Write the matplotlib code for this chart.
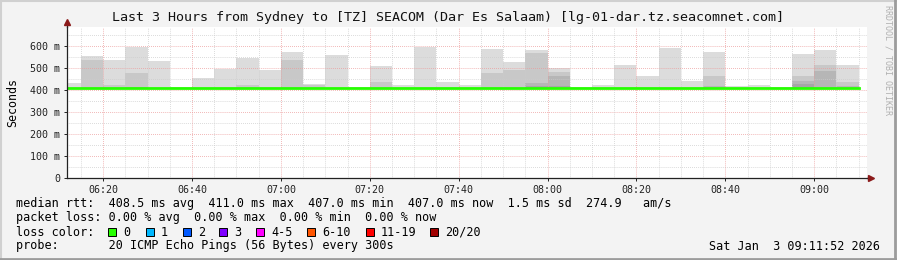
import numpy as np
import matplotlib
matplotlib.use("Agg")
import matplotlib.pyplot as plt
from matplotlib.patches import Rectangle
from matplotlib.lines import Line2D

# 5-minute steps (start of each step)
step_start = ["06:10", "06:15", "06:20", "06:25", "06:30", "06:35",
              "06:40", "06:45", "06:50", "06:55", "07:00", "07:05",
              "07:10", "07:15", "07:20", "07:25", "07:30", "07:35",
              "07:40", "07:45", "07:50", "07:55", "08:00", "08:05",
              "08:10", "08:15", "08:20", "08:25", "08:30", "08:35",
              "08:40", "08:45", "08:50", "08:55", "09:00", "09:05"]

# smoke (ms): max ping and darker inner bands (0 = no band)
smoke_max = [433, 554, 536, 594, 532, 414, 456, 497, 547, 491, 573, 429,
             559, 412, 509, 423, 597, 438, 423, 586, 527, 582, 500, 412,
             423, 514, 464, 592, 442, 573, 418, 423, 412, 564, 582, 514]
smoke_mid = [0, 536, 423, 479, 0, 0, 0, 0, 423, 0, 536, 421,
             0, 0, 438, 0, 0, 0, 0, 479, 491, 567, 483, 0,
             0, 0, 0, 0, 0, 464, 0, 0, 0, 464, 514, 436]
smoke_dark = [0, 0, 0, 415, 0, 0, 0, 0, 0, 0, 0, 0,
              0, 0, 0, 0, 0, 0, 0, 0, 0, 430, 464, 0,
              0, 0, 0, 0, 0, 418, 0, 0, 0, 442, 488, 418]
smoke_darkest = [0, 0, 0, 0, 0, 0, 0, 0, 0, 0, 0, 0,
                 0, 0, 0, 0, 0, 0, 0, 0, 0, 420, 418, 0,
                 0, 0, 0, 0, 0, 0, 0, 0, 0, 427, 0, 0]
median_rtt = [409, 409, 409, 409, 409, 409, 411, 411, 411, 407, 407, 411,
              411, 411, 411, 407, 411, 411, 411, 411, 411, 411, 411, 411,
              411, 411, 407, 407, 407, 407, 411, 411, 411, 408, 408, 408]

time_ticks = ["06:20", "06:40", "07:00", "07:20", "07:40", "08:00",
              "08:20", "08:40", "09:00"]

loss_labels = ["0", "1", "2", "3", "4-5", "6-10", "11-19", "20/20"]
loss_colors = ["#26ff00", "#00b8ff", "#0059ff", "#7e00ff", "#ff00ff",
               "#ff5500", "#ff0000", "#a10000"]


def to_min(s):
    h, m = s.split(":")
    return int(h) * 60 + int(m)


W, H = 897, 260
mono = "DejaVu Sans Mono"
plt.rcParams['font.family'] = mono

fig = plt.figure(figsize=(W / 100, H / 100), dpi=100, facecolor="#f3f3f3")


def px(x, y):
    return x / W, 1 - y / H


ax = fig.add_axes([67 / W, 82 / H, 800 / W, 151 / H])
ax.set_facecolor("white")

x = np.array([to_min(s) for s in step_start], dtype=float)
base = 404
for vals, col in [(smoke_max, "#dcdcdc"), (smoke_mid, "#c8c8c8"),
                  (smoke_dark, "#b6b6b6"), (smoke_darkest, "#a6a6a6")]:
    v = np.array(vals, dtype=float)
    ax.bar(x, np.maximum(v - base, 0), bottom=base, width=5, align="edge",
           color=col, linewidth=0, zorder=1)

# grid
start, end = to_min("06:11") + 52 / 60, to_min("09:11") + 52 / 60
ax.set_xlim(start, end)
ax.set_ylim(0, 686)
dots = (0, (0.7, 1.4))
for yv in range(50, 686, 50):
    c = "#ec9a9a" if yv % 100 == 0 else "#cccccc"
    ax.axhline(yv, color=c, lw=0.7, ls=dots, zorder=2)
for xv in range(375, 552, 5):
    c = "#ec9a9a" if xv % 20 == 0 else "#cccccc"
    ax.axvline(xv, color=c, lw=0.7, ls=dots, zorder=2)

# median line
xe = np.append(x, x[-1] + 5)
me = np.append(median_rtt, median_rtt[-1])
ax.step(xe, me, where="post", color="#26ff00", lw=2, zorder=3)

ax.set_xticks([to_min(t) for t in time_ticks])
ax.set_xticklabels(time_ticks)
yt = list(range(0, 601, 100))
ax.set_yticks(yt)
ax.set_yticklabels(["0"] + [f"{v} m" for v in yt[1:]])
ax.tick_params(length=2, width=0.7, pad=3, labelsize=7.2, colors="#222222")
for s in ["top", "right"]:
    ax.spines[s].set_visible(False)
for s in ["left", "bottom"]:
    ax.spines[s].set_color("#222222")
    ax.spines[s].set_linewidth(0.9)
    ax.spines[s].set_zorder(4)

# axis arrows
fig.add_artist(Line2D([67 / W, 67 / W], [px(0, 27)[1], px(0, 23)[1]],
                      color="#222222", lw=0.9))
fig.add_artist(Line2D([867 / W, 871 / W], [px(0, 178)[1]] * 2,
                      color="#222222", lw=0.9))
fig.add_artist(Line2D([67 / W], [px(0, 22)[1]], marker="^", ms=4,
                      color="#8b1a1a", lw=0))
fig.add_artist(Line2D([871 / W], [px(0, 178)[1]], marker=">", ms=4,
                      color="#8b1a1a", lw=0))

ax.set_ylabel("Seconds", fontsize=8.4, labelpad=8)

fig.text(*px(448, 18), "Last 3 Hours from Sydney to [TZ] SEACOM (Dar Es Salaam) "
         "[lg-01-dar.tz.seacomnet.com]", ha="center", va="center",
         fontsize=9.6, color="#111111")

fig.text(*px(888, 5), "RRDTOOL / TOBI OETIKER", rotation=270, ha="center",
         va="top", fontsize=6, color="#b0b0b0")

fs = 8.5
fig.text(*px(16, 204), "median rtt:  408.5 ms avg  411.0 ms max  407.0 ms min"
         "  407.0 ms now  1.5 ms sd  274.9   am/s", fontsize=fs, va="center")
fig.text(*px(16, 218), "packet loss: 0.00 % avg  0.00 % max  0.00 % min"
         "  0.00 % now", fontsize=fs, va="center")
fig.text(*px(16, 232), "loss color:", fontsize=fs, va="center")
fig.text(*px(16, 246), "probe:       20 ICMP Echo Pings (56 Bytes) every 300s",
         fontsize=fs, va="center")
fig.text(*px(880, 246), "Sat Jan  3 09:11:52 2026", fontsize=fs,
         va="center", ha="right")

box_x = [108, 146, 183, 219, 256, 307, 366, 430]
for bx, lab, col in zip(box_x, loss_labels, loss_colors):
    fig.add_artist(Rectangle(px(bx, 236), 8 / W, 8 / H, facecolor=col,
                             edgecolor="black", lw=0.7))
    fig.text(*px(bx + 15, 232), lab, fontsize=fs, va="center")

# image frame
fig.add_artist(Line2D([0, 1], [0.998, 0.998], color="#d0d0d0", lw=1.5))
fig.add_artist(Line2D([0.001, 0.001], [0, 1], color="#d0d0d0", lw=1.5))
fig.add_artist(Line2D([0, 1], [0.004, 0.004], color="#9c9c9c", lw=2))
fig.add_artist(Line2D([0.998, 0.998], [0, 1], color="#9c9c9c", lw=2))

fig.savefig("out.png", dpi=100, facecolor=fig.get_facecolor())
